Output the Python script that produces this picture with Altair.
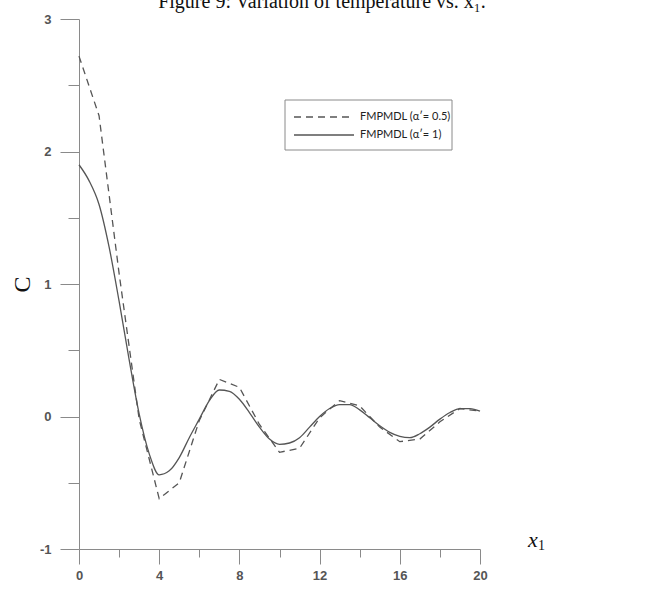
import altair as alt
import pandas as pd

# ---- data ----
x_solid = [0, 0.5, 1, 1.5, 2, 2.5, 3, 3.5, 4, 4.5, 5, 5.5, 6, 6.5, 7, 7.5, 8, 8.5, 9, 9.5,
           10, 10.5, 11, 11.5, 12, 12.5, 13, 13.5, 14, 14.5, 15, 15.5, 16, 16.5, 17, 17.5,
           18, 18.5, 19, 19.5, 20]
c_solid = [1.90, 1.78, 1.60, 1.28, 0.87, 0.43, 0.02, -0.28, -0.44, -0.41, -0.31, -0.16,
           -0.02, 0.12, 0.20, 0.19, 0.13, 0.03, -0.08, -0.17, -0.21, -0.20, -0.16, -0.08,
           0.00, 0.06, 0.09, 0.09, 0.05, -0.01, -0.07, -0.12, -0.15, -0.16, -0.13, -0.08,
           -0.02, 0.03, 0.06, 0.06, 0.04]
x_dash = [0, 1, 2, 3, 4, 5, 6, 7, 8, 9, 10, 11, 12, 13, 14, 15, 16, 17, 18, 19, 20]
c_dash = [2.72, 2.27, 1.08, -0.02, -0.62, -0.50, -0.03, 0.28, 0.22, -0.06, -0.27, -0.24,
          -0.01, 0.12, 0.08, -0.08, -0.19, -0.17, -0.04, 0.06, 0.04]
series_names = ["FMPMDL (α′= 0.5)", "FMPMDL  (α′= 1)"]
x_major = [0, 4, 8, 12, 16, 20]
x_minor = [2, 6, 10, 14, 18]
y_major = [-1, 0, 1, 2, 3]
y_minor = [-0.5, 0.5, 1.5, 2.5]
title_text = "Figure 9: Variation of temperature vs. x\u2081."
y_title = "C"

W, H = 401, 530
LINE = "#555555"
AXIS = "#8a8a8a"

df_dash = pd.DataFrame({"x": x_dash, "c": c_dash, "s": series_names[0]})
df_solid = pd.DataFrame({"x": x_solid, "c": c_solid, "s": series_names[1]})

xs = alt.Scale(domain=[0, 20], nice=False, zero=False)
ys = alt.Scale(domain=[-1, 3], nice=False, zero=False)
lab = dict(labelFont="Liberation Sans", labelFontSize=13, labelFontWeight="bold",
           labelColor="#555555", labelFlush=False)

# dashed series carries the major ticks and labels
dashed = alt.Chart(df_dash).mark_line(color=LINE, strokeWidth=1.3, strokeDash=[7, 5]).encode(
    x=alt.X("x:Q", scale=xs,
            axis=alt.Axis(values=x_major, orient="bottom", title=None, grid=False,
                          domainColor=AXIS, tickColor=AXIS, tickSize=15, labelPadding=5,
                          labelExpr="'' + datum.value", **lab)),
    y=alt.Y("c:Q", scale=ys,
            axis=alt.Axis(values=y_major, orient="left", grid=False,
                          domainColor=AXIS, tickColor=AXIS, tickSize=19, labelPadding=9,
                          labelExpr="'' + datum.value", **lab,
                          title=y_title, titleFont="Liberation Serif", titleFontSize=24,
                          titleFontWeight="normal", titleColor="#111111", titleAngle=270,
                          titleX=-57, titleY=265, titleAlign="center", titleBaseline="middle")),
)

# solid series carries the minor ticks
solid = alt.Chart(df_solid).mark_line(color=LINE, strokeWidth=1.3, interpolate="monotone").encode(
    x=alt.X("x:Q", scale=xs,
            axis=alt.Axis(values=x_minor, orient="bottom", title=None, grid=False, domain=False,
                          labels=False, tickColor=AXIS, tickSize=8)),
    y=alt.Y("c:Q", scale=ys,
            axis=alt.Axis(values=y_minor, orient="left", title=None, grid=False, domain=False,
                          labels=False, tickColor=AXIS, tickSize=11)),
)

# legend (boxed annotation)
leg_df = pd.DataFrame({"s": series_names})
box = alt.Chart(pd.DataFrame({"k": [0]})).mark_rect(fill="white", stroke=AXIS, strokeWidth=1).encode(
    x=alt.value(206), x2=alt.value(373), y=alt.value(81), y2=alt.value(131))
sample_dash = alt.Chart(pd.DataFrame({"k": [0]})).mark_rule(color=LINE, strokeWidth=1.3, strokeDash=[7, 5]).encode(
    x=alt.value(215), x2=alt.value(275), y=alt.value(98))
sample_solid = alt.Chart(pd.DataFrame({"k": [0]})).mark_rule(color=LINE, strokeWidth=1.3).encode(
    x=alt.value(215), x2=alt.value(275), y=alt.value(116))
lab1 = alt.Chart(leg_df.iloc[[0]]).mark_text(align="left", baseline="middle", font="Lato",
                                             fontSize=11, color="#222222").encode(
    text="s:N", x=alt.value(281), y=alt.value(98))
lab2 = alt.Chart(leg_df.iloc[[1]]).mark_text(align="left", baseline="middle", font="Lato",
                                             fontSize=11, color="#222222").encode(
    text="s:N", x=alt.value(281), y=alt.value(116))

title = alt.Chart(pd.DataFrame({"t": [title_text]})).mark_text(
    align="center", baseline="alphabetic", font="Liberation Serif", fontSize=20, color="#111111").encode(
    text="t:N", x=alt.value(243), y=alt.value(-11))

xlab = alt.Chart(pd.DataFrame({"t": ["x"]})).mark_text(
    align="left", baseline="alphabetic", font="Liberation Serif", fontSize=22, fontStyle="italic",
    color="#111111").encode(text="t:N", x=alt.value(449), y=alt.value(528))
xsub = alt.Chart(pd.DataFrame({"t": ["1"]})).mark_text(
    align="left", baseline="alphabetic", font="Liberation Serif", fontSize=14,
    color="#111111").encode(text="t:N", x=alt.value(459), y=alt.value(531))

chart = alt.layer(dashed, solid, box, sample_dash, sample_solid, lab1, lab2, title, xlab, xsub).resolve_axis(
    x="independent", y="independent"
).properties(
    width=W, height=H,
    autosize=alt.AutoSizeParams(type="none"),
    padding={"left": 79, "top": 19, "right": 172, "bottom": 41},
    background="white",
).configure_view(stroke=None)

chart.save("out.html", embed_options={"renderer": "svg", "actions": False})
